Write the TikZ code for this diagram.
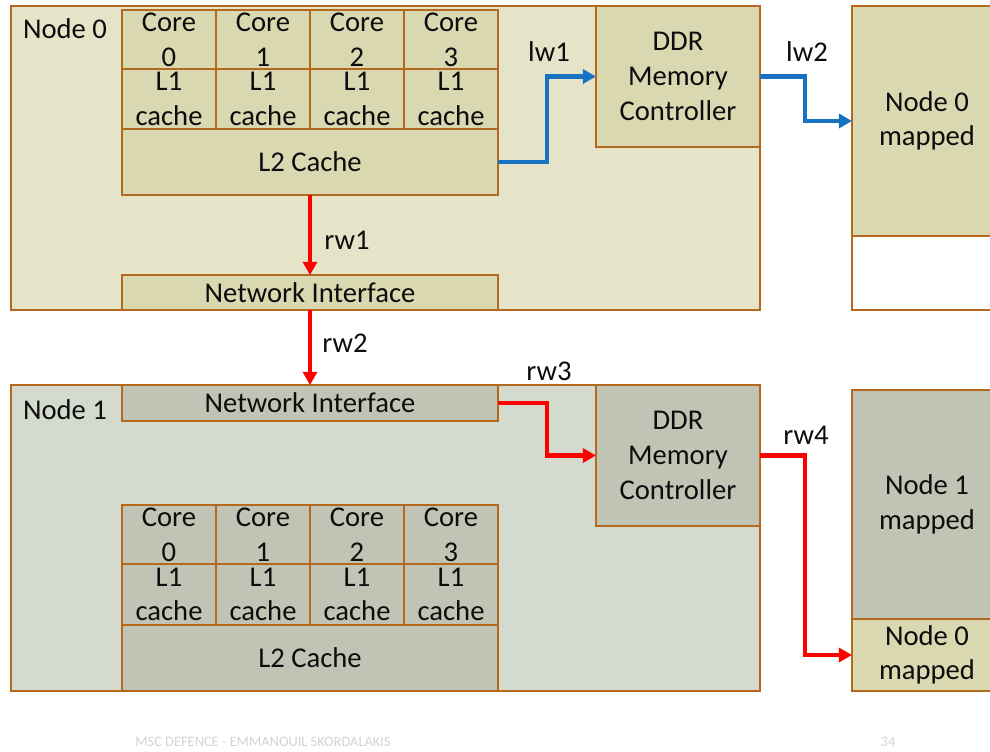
\documentclass[tikz,border=0pt]{standalone}
\usepackage{fontspec}
\setmainfont{Carlito}
\usepackage{tikz}
\usetikzlibrary{arrows.meta}
\definecolor{edge}{HTML}{B5691E}
\definecolor{zeroback}{HTML}{E5E4C9}
\definecolor{zerocell}{HTML}{DAD8B1}
\definecolor{oneback}{HTML}{D4DACD}
\definecolor{onecell}{HTML}{C0C4B4}
\definecolor{lblue}{HTML}{1772C2}
\definecolor{rred}{HTML}{FF0000}
\definecolor{ink}{HTML}{0D0D0D}
\definecolor{foot}{HTML}{D3D3D3}

\begin{document}
\begin{tikzpicture}[x=0.02cm,y=-0.02cm,
  txt/.style={inner sep=0pt,outer sep=0pt,align=center,text=ink,
    font=\fontsize{16.3}{19.7}\selectfont},
  box/.style={txt,draw=edge,line width=1.1pt,anchor=north west},
  sz/.style 2 args={minimum width=#1*0.02cm,minimum height=#2*0.02cm},
  flow/.style={line width=2.3pt,-{Triangle[length=7.5pt,width=8pt]}},
  foot/.style={inner sep=0pt,text=foot,font=\fontsize{8.2}{10}\selectfont}]
  % pixel grid of the slide, y downwards
  \clip (0,0) rectangle (990,751);

  % node 0
  \node[box,fill=zeroback,sz={749}{304}] (nodea) at (11,6) {};
  \node[txt] (labela) at (65,29) {Node 0};
  \foreach \i in {0,...,3}{
    \node[box,fill=zerocell,sz={94}{59}] (corea\i) at (122+94*\i,10) {Core\\\i};
    \node[box,fill=zerocell,sz={94}{60}] (lonea\i) at (122+94*\i,69) {L1\\cache};
  }
  \node[box,fill=zerocell,sz={376}{66}] (ltwoa) at (122,129) {L2 Cache};
  \node[box,fill=zerocell,sz={376}{35}] (neta) at (122,275) {Network Interface};
  \node[box,fill=zerocell,sz={164}{141}] (ddra) at (596,6) {DDR\\Memory\\Controller};
  \node[box,fill=zerocell,sz={150}{230}] (mapa) at (852,6) {Node 0\\mapped};
  \node[box,fill=white,sz={150}{74}] (freea) at (852,236) {};

  % node 1
  \node[box,fill=oneback,sz={749}{306}] (nodeb) at (11,385) {};
  \node[txt] (labelb) at (65,410) {Node 1};
  \node[box,fill=onecell,sz={376}{36}] (netb) at (122,385) {Network Interface};
  \foreach \i in {0,...,3}{
    \node[box,fill=onecell,sz={94}{59}] (coreb\i) at (122+94*\i,505) {Core\\\i};
    \node[box,fill=onecell,sz={94}{61}] (loneb\i) at (122+94*\i,564) {L1\\cache};
  }
  \node[box,fill=onecell,sz={376}{66}] (ltwob) at (122,625) {L2 Cache};
  \node[box,fill=onecell,sz={164}{141}] (ddrb) at (596,385) {DDR\\Memory\\Controller};
  \node[box,fill=onecell,sz={150}{229}] (mapb) at (852,390) {Node 1\\mapped};
  \node[box,fill=zerocell,sz={150}{72}] (mapc) at (852,619) {Node 0\\mapped};

  % local write
  \draw[flow,lblue] (ltwoa.east) -- ++(49,0) |- (ddra.west);
  \draw[flow,lblue] (ddra.east) -- ++(45,0) |- (mapa.west);
  \node[txt] (lwone) at (549,52) {lw1};
  \node[txt] (lwtwo) at (807,52) {lw2};

  % remote write
  \draw[flow,rred] (ltwoa.south) -- (neta.north);
  \draw[flow,rred] (neta.south) -- (netb.north);
  \draw[flow,rred] (netb.east) -- ++(49,0) |- (ddrb.west);
  \draw[flow,rred] (ddrb.east) -- ++(45,0) |- (mapc.west);
  \node[txt] (rwone) at (347,240) {rw1};
  \node[txt] (rwtwo) at (345,343) {rw2};
  \node[txt] (rwthree) at (549,371) {rw3};
  \node[txt] (rwfour) at (806,435) {rw4};

  \node[foot] (footl) at (263,742) {MSC DEFENCE - EMMANOUIL SKORDALAKIS};
  \node[foot] (footr) at (888,742) {34};
\end{tikzpicture}
\end{document}
